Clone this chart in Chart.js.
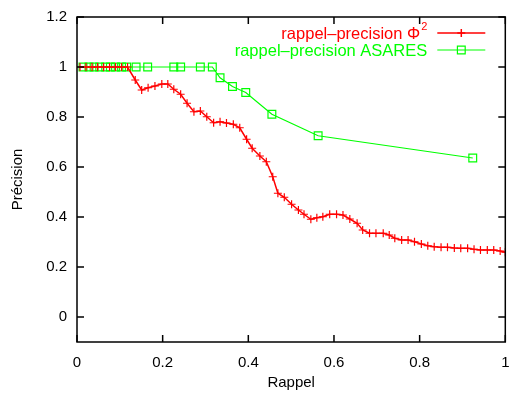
<!DOCTYPE html>
<html>
<head>
<meta charset="utf-8">
<script src="https://cdn.jsdelivr.net/npm/chart.js@4.4.1/dist/chart.umd.min.js"></script>
<style>
  html, body { margin: 0; padding: 0; background: #fff; }
  #wrap { width: 512px; height: 396px; }
</style>
</head>
<body>
<div id="wrap"><canvas id="myChart" width="512" height="396"></canvas></div>
<script>
// rappel / precision
var phiRappel = [0.007, 0.021, 0.035, 0.048, 0.062, 0.076, 0.090, 0.104, 0.118,
    0.136, 0.151, 0.166, 0.182, 0.198, 0.212, 0.226, 0.242, 0.257, 0.273, 0.288,
    0.303, 0.319, 0.334, 0.349, 0.365, 0.380, 0.396, 0.409, 0.427, 0.442, 0.457,
    0.469, 0.484, 0.501, 0.517, 0.530, 0.546, 0.560, 0.574, 0.590, 0.606, 0.621,
    0.637, 0.654, 0.667, 0.683, 0.698, 0.715, 0.729, 0.742, 0.758, 0.773, 0.788,
    0.804, 0.819, 0.834, 0.850, 0.865, 0.881, 0.896, 0.912, 0.927, 0.942, 0.958,
    0.973, 0.988, 1.0];
var phiPrecision = [1, 1, 1, 1, 1, 1, 1, 1, 1,
    0.948, 0.908, 0.917, 0.924, 0.932, 0.932, 0.911, 0.891, 0.855, 0.821, 0.824,
    0.801, 0.777, 0.781, 0.776, 0.771, 0.757, 0.711, 0.675, 0.644, 0.621, 0.561,
    0.495, 0.479, 0.451, 0.428, 0.411, 0.391, 0.397, 0.401, 0.411, 0.411, 0.408,
    0.392, 0.375, 0.348, 0.335, 0.335, 0.335, 0.328, 0.315, 0.308, 0.308, 0.301,
    0.292, 0.285, 0.281, 0.279, 0.279, 0.276, 0.275, 0.275, 0.271, 0.268, 0.268,
    0.268, 0.264, 0.259];

var asaresRappel = [0.014, 0.028, 0.040, 0.053, 0.067, 0.078, 0.090, 0.104, 0.116,
    0.138, 0.165, 0.226, 0.242, 0.288, 0.316, 0.334, 0.363, 0.394, 0.455, 0.563, 0.924];
var asaresPrecision = [1, 1, 1, 1, 1, 1, 1, 1, 1,
    1, 1, 1, 1, 1, 1, 0.957, 0.922, 0.898, 0.811, 0.725, 0.636];

var xTicks = [0, 0.2, 0.4, 0.6, 0.8, 1];
var yTicks = [0, 0.2, 0.4, 0.6, 0.8, 1, 1.2];
var xLabel = 'Rappel';
var yLabel = 'Précision';
var seriesNames = ['rappel–precision Φ', 'rappel–precision ASARES'];

function toPoints(xs, ys) {
    return xs.map(function (v, i) { return { x: v, y: ys[i] }; });
}

var FONT = "'Liberation Sans', Arial, Helvetica, sans-serif";

// gnuplot style frame with inward ticks on every side
var framePlugin = {
    id: 'frame',
    afterDraw: function (chart) {
        var ctx = chart.ctx, a = chart.chartArea;
        var xs = chart.scales.x, ys = chart.scales.y;
        var tl = 7;
        ctx.save();
        ctx.strokeStyle = '#000';
        ctx.lineWidth = 1.5;
        ctx.beginPath();
        xTicks.forEach(function (t) {
            var px = xs.getPixelForValue(t);
            ctx.moveTo(px, a.bottom); ctx.lineTo(px, a.bottom - tl);
            ctx.moveTo(px, a.top); ctx.lineTo(px, a.top + tl);
        });
        yTicks.forEach(function (t) {
            var py = ys.getPixelForValue(t);
            ctx.moveTo(a.left, py); ctx.lineTo(a.left + tl, py);
            ctx.moveTo(a.right, py); ctx.lineTo(a.right - tl, py);
        });
        ctx.stroke();
        ctx.strokeRect(a.left, a.top, a.right - a.left, a.bottom - a.top);
        ctx.restore();
    }
};

// key in the top right corner, text right aligned before the sample
var keyPlugin = {
    id: 'key',
    afterDatasetsDraw: function (chart) {
        var ctx = chart.ctx, a = chart.chartArea;
        var textRight = a.right - 78;
        var lineX0 = a.right - 68, lineX1 = a.right - 20;
        ctx.save();
        chart.data.datasets.forEach(function (ds, i) {
            var y = a.top + 16 + i * 17;
            ctx.fillStyle = ds.borderColor;
            ctx.textBaseline = 'middle';
            var right = textRight;
            if (ds.sup) {
                ctx.font = '11px ' + FONT;
                ctx.textAlign = 'right';
                ctx.fillText(ds.sup, right, y - 6);
                right -= ctx.measureText(ds.sup).width + 1;
            }
            ctx.font = '16.5px ' + FONT;
            ctx.textAlign = 'right';
            ctx.fillText(ds.label, right, y + 1);
            ctx.strokeStyle = ds.borderColor;
            ctx.fillStyle = ds.backgroundColor;
            ctx.lineWidth = ds.borderWidth;
            ctx.beginPath();
            ctx.moveTo(lineX0, y); ctx.lineTo(lineX1, y);
            ctx.stroke();
            Chart.helpers.drawPoint(ctx, {
                pointStyle: ds.pointStyle, radius: ds.pointRadius,
                borderWidth: 1.2, rotation: 0
            }, (lineX0 + lineX1) / 2, y);
        });
        ctx.restore();
    }
};

const ctx = document.getElementById('myChart');
new Chart(ctx, {
    type: 'line',
    data: {
        datasets: [
            {
                label: seriesNames[0],
                sup: '2',
                data: toPoints(phiRappel, phiPrecision),
                borderColor: '#ff0000',
                backgroundColor: '#ff0000',
                borderWidth: 1.5,
                pointStyle: 'cross',
                pointRadius: 4,
                pointBorderWidth: 1.2,
                tension: 0,
                fill: false
            },
            {
                label: seriesNames[1],
                data: toPoints(asaresRappel, asaresPrecision),
                borderColor: '#00ff00',
                backgroundColor: 'rgba(0,0,0,0)',
                borderWidth: 1.2,
                pointStyle: 'rect',
                pointRadius: 5.5,
                pointBorderWidth: 1.2,
                tension: 0,
                fill: false
            }
        ]
    },
    options: {
        responsive: false,
        animation: false,
        events: [],
        layout: { padding: { top: 17, right: 2, left: 0, bottom: 0 } },
        plugins: {
            legend: { display: false },
            tooltip: { enabled: false }
        },
        scales: {
            x: {
                type: 'linear',
                min: 0, max: 1,
                afterBuildTicks: function (s) { s.ticks = xTicks.map(function (v) { return { value: v }; }); },
                afterFit: function (s) { s.height = 54; s.paddingLeft = 0; s.paddingRight = 0; },
                grid: { display: false, drawTicks: false },
                border: { display: false },
                ticks: {
                    color: '#000', padding: 12, maxRotation: 0,
                    font: { family: FONT, size: 15 },
                    callback: function (v) { return String(v); }
                },
                title: {
                    display: true, text: xLabel, color: '#000',
                    font: { family: FONT, size: 15 },
                    padding: { top: 0, bottom: 4 }
                }
            },
            y: {
                type: 'linear',
                min: -0.1, max: 1.2,
                afterBuildTicks: function (s) { s.ticks = yTicks.map(function (v) { return { value: v }; }); },
                afterFit: function (s) { s.width = 77; s.paddingTop = 0; s.paddingBottom = 0; },
                grid: { display: false, drawTicks: false },
                border: { display: false },
                ticks: {
                    color: '#000', padding: 10,
                    font: { family: FONT, size: 15 },
                    callback: function (v) { return String(v); }
                },
                title: {
                    display: true, text: yLabel, color: '#000',
                    font: { family: FONT, size: 15 },
                    padding: { top: 9, bottom: 0 }
                }
            }
        }
    },
    plugins: [framePlugin, keyPlugin]
});
</script>
</body>
</html>
